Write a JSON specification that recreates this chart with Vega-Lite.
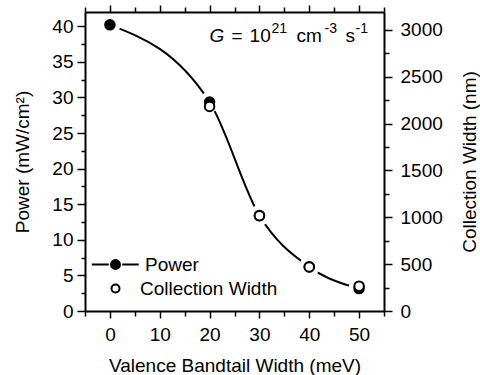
{
  "$schema": "https://vega.github.io/schema/vega-lite/v6.json",
  "width": 299,
  "height": 299,
  "autosize": {"type": "none"},
  "padding": {"left": 85, "top": 12, "right": 96, "bottom": 64},
  "background": "white",
  "config": {
    "view": {"stroke": null},
    "font": "Liberation Sans",
    "text": {"font": "Liberation Sans", "fontSize": 19, "color": "black", "align": "left", "baseline": "alphabetic"},
    "axis": {
      "grid": false,
      "domainColor": "black",
      "domainWidth": 2,
      "tickColor": "black",
      "tickWidth": 1.5,
      "labelColor": "black",
      "titleColor": "black",
      "labelFont": "Liberation Sans",
      "titleFont": "Liberation Sans",
      "labelFontSize": 19,
      "titleFontSize": 19,
      "titleFontWeight": "normal",
      "labelOverlap": false,
      "labelBound": false,
      "labelFlush": false
    }
  },
  "datasets": {
    "power": [
      {"bandtail": 0, "power": 40.2, "series": "Power"},
      {"bandtail": 20, "power": 29.35, "series": "Power"},
      {"bandtail": 30, "power": 13.4, "series": "Power"},
      {"bandtail": 40, "power": 6.2, "series": "Power"},
      {"bandtail": 50, "power": 3.15, "series": "Power"}
    ],
    "width": [
      {"bandtail": 20, "cw": 2183, "series": "Collection Width"},
      {"bandtail": 30, "cw": 1017, "series": "Collection Width"},
      {"bandtail": 40, "cw": 470, "series": "Collection Width"},
      {"bandtail": 50, "cw": 265, "series": "Collection Width"}
    ],
    "note": [{"g": "G", "eq": "=", "ten": "10", "e21": "21", "cm": "cm", "e3": "-3", "s": "s", "e1": "-1"}]
  },
  "layer": [
    {
      "layer": [
        {
          "data": {"name": "power"},
          "mark": {"type": "line", "interpolate": "monotone", "color": "black", "strokeWidth": 2},
          "encoding": {
            "x": {"field": "bandtail", "type": "quantitative", "scale": {"domain": [-5, 55], "nice": false, "zero": false}, "axis": {"orient": "bottom", "title": "Valence Bandtail Width (meV)", "values": [-5, 0, 5, 10, 15, 20, 25, 30, 35, 40, 45, 50, 55], "labelExpr": "datum.value % 10 === 0 ? datum.label : ''", "tickSize": {"condition": {"test": "datum.value % 10 === 0", "value": 7}, "value": 5}, "labelPadding": 7, "titlePadding": 12}},
            "y": {"field": "power", "type": "quantitative", "scale": {"domain": [0, 42], "nice": false}, "axis": {"orient": "left", "title": "Power (mW/cm²)", "values": [0, 2.5, 5, 7.5, 10, 12.5, 15, 17.5, 20, 22.5, 25, 27.5, 30, 32.5, 35, 37.5, 40], "labelExpr": "datum.value % 5 === 0 ? datum.label : ''", "tickSize": {"condition": {"test": "datum.value % 5 === 0", "value": 8}, "value": 4}, "labelPadding": 4, "titlePadding": 19}}
          }
        },
        {
          "data": {"name": "power"},
          "mark": {"type": "circle", "size": 440, "color": "white", "opacity": 1},
          "encoding": {
            "x": {"field": "bandtail", "type": "quantitative", "scale": {"domain": [-5, 55], "nice": false, "zero": false}, "axis": {"orient": "bottom", "title": "Valence Bandtail Width (meV)", "values": [-5, 0, 5, 10, 15, 20, 25, 30, 35, 40, 45, 50, 55], "labelExpr": "datum.value % 10 === 0 ? datum.label : ''", "tickSize": {"condition": {"test": "datum.value % 10 === 0", "value": 7}, "value": 5}, "labelPadding": 7, "titlePadding": 12}},
            "y": {"field": "power", "type": "quantitative", "scale": {"domain": [0, 42], "nice": false}, "axis": {"orient": "left", "title": "Power (mW/cm²)", "values": [0, 2.5, 5, 7.5, 10, 12.5, 15, 17.5, 20, 22.5, 25, 27.5, 30, 32.5, 35, 37.5, 40], "labelExpr": "datum.value % 5 === 0 ? datum.label : ''", "tickSize": {"condition": {"test": "datum.value % 5 === 0", "value": 8}, "value": 4}, "labelPadding": 4, "titlePadding": 19}}
          }
        },
        {
          "data": {"name": "power"},
          "mark": {"type": "point", "shape": "circle", "filled": true, "size": 100, "stroke": "black", "strokeWidth": 1.5, "opacity": 1},
          "encoding": {
            "x": {"field": "bandtail", "type": "quantitative", "scale": {"domain": [-5, 55], "nice": false, "zero": false}, "axis": {"orient": "bottom", "title": "Valence Bandtail Width (meV)", "values": [-5, 0, 5, 10, 15, 20, 25, 30, 35, 40, 45, 50, 55], "labelExpr": "datum.value % 10 === 0 ? datum.label : ''", "tickSize": {"condition": {"test": "datum.value % 10 === 0", "value": 7}, "value": 5}, "labelPadding": 7, "titlePadding": 12}},
            "y": {"field": "power", "type": "quantitative", "scale": {"domain": [0, 42], "nice": false}, "axis": {"orient": "left", "title": "Power (mW/cm²)", "values": [0, 2.5, 5, 7.5, 10, 12.5, 15, 17.5, 20, 22.5, 25, 27.5, 30, 32.5, 35, 37.5, 40], "labelExpr": "datum.value % 5 === 0 ? datum.label : ''", "tickSize": {"condition": {"test": "datum.value % 5 === 0", "value": 8}, "value": 4}, "labelPadding": 4, "titlePadding": 19}},
            "fill": {
              "field": "series",
              "type": "nominal",
              "scale": {"domain": ["Power"], "range": ["black"]},
              "legend": {
                "title": null,
                "orient": "none",
                "legendX": 21,
                "legendY": 243,
                "padding": 0,
                "symbolSize": 80,
                "symbolType": "M-5.3,0L-1.5,0M1.5,0L5.2,0M-1,0A1,1 0 1,1 1,0A1,1 0 1,1 -1,0Z",
                "symbolStrokeColor": "black",
                "symbolStrokeWidth": 2,
                "labelFont": "Liberation Sans",
                "labelFontSize": 19,
                "labelColor": "black",
                "labelOffset": 20
              }
            }
          }
        },
        {
          "data": {"name": "note"},
          "mark": {"type": "text", "fontStyle": "italic"},
          "encoding": {
            "x": {"datum": 20, "type": "quantitative", "scale": {"domain": [-5, 55], "nice": false, "zero": false}, "axis": {"orient": "bottom", "title": "Valence Bandtail Width (meV)", "values": [-5, 0, 5, 10, 15, 20, 25, 30, 35, 40, 45, 50, 55], "labelExpr": "datum.value % 10 === 0 ? datum.label : ''", "tickSize": {"condition": {"test": "datum.value % 10 === 0", "value": 7}, "value": 5}, "labelPadding": 7, "titlePadding": 12}},
            "y": {"datum": 37.8, "type": "quantitative", "scale": {"domain": [0, 42], "nice": false}, "axis": {"orient": "left", "title": "Power (mW/cm²)", "values": [0, 2.5, 5, 7.5, 10, 12.5, 15, 17.5, 20, 22.5, 25, 27.5, 30, 32.5, 35, 37.5, 40], "labelExpr": "datum.value % 5 === 0 ? datum.label : ''", "tickSize": {"condition": {"test": "datum.value % 5 === 0", "value": 8}, "value": 4}, "labelPadding": 4, "titlePadding": 19}},
            "text": {"field": "g"}
          }
        },
        {
          "data": {"name": "note"},
          "mark": {"type": "text", "dx": 22},
          "encoding": {
            "x": {"datum": 20, "type": "quantitative", "scale": {"domain": [-5, 55], "nice": false, "zero": false}, "axis": {"orient": "bottom", "title": "Valence Bandtail Width (meV)", "values": [-5, 0, 5, 10, 15, 20, 25, 30, 35, 40, 45, 50, 55], "labelExpr": "datum.value % 10 === 0 ? datum.label : ''", "tickSize": {"condition": {"test": "datum.value % 10 === 0", "value": 7}, "value": 5}, "labelPadding": 7, "titlePadding": 12}},
            "y": {"datum": 37.8, "type": "quantitative", "scale": {"domain": [0, 42], "nice": false}, "axis": {"orient": "left", "title": "Power (mW/cm²)", "values": [0, 2.5, 5, 7.5, 10, 12.5, 15, 17.5, 20, 22.5, 25, 27.5, 30, 32.5, 35, 37.5, 40], "labelExpr": "datum.value % 5 === 0 ? datum.label : ''", "tickSize": {"condition": {"test": "datum.value % 5 === 0", "value": 8}, "value": 4}, "labelPadding": 4, "titlePadding": 19}},
            "text": {"field": "eq"}
          }
        },
        {
          "data": {"name": "note"},
          "mark": {"type": "text", "dx": 40},
          "encoding": {
            "x": {"datum": 20, "type": "quantitative", "scale": {"domain": [-5, 55], "nice": false, "zero": false}, "axis": {"orient": "bottom", "title": "Valence Bandtail Width (meV)", "values": [-5, 0, 5, 10, 15, 20, 25, 30, 35, 40, 45, 50, 55], "labelExpr": "datum.value % 10 === 0 ? datum.label : ''", "tickSize": {"condition": {"test": "datum.value % 10 === 0", "value": 7}, "value": 5}, "labelPadding": 7, "titlePadding": 12}},
            "y": {"datum": 37.8, "type": "quantitative", "scale": {"domain": [0, 42], "nice": false}, "axis": {"orient": "left", "title": "Power (mW/cm²)", "values": [0, 2.5, 5, 7.5, 10, 12.5, 15, 17.5, 20, 22.5, 25, 27.5, 30, 32.5, 35, 37.5, 40], "labelExpr": "datum.value % 5 === 0 ? datum.label : ''", "tickSize": {"condition": {"test": "datum.value % 5 === 0", "value": 8}, "value": 4}, "labelPadding": 4, "titlePadding": 19}},
            "text": {"field": "ten"}
          }
        },
        {
          "data": {"name": "note"},
          "mark": {"type": "text", "dx": 62, "dy": -9, "fontSize": 14},
          "encoding": {
            "x": {"datum": 20, "type": "quantitative", "scale": {"domain": [-5, 55], "nice": false, "zero": false}, "axis": {"orient": "bottom", "title": "Valence Bandtail Width (meV)", "values": [-5, 0, 5, 10, 15, 20, 25, 30, 35, 40, 45, 50, 55], "labelExpr": "datum.value % 10 === 0 ? datum.label : ''", "tickSize": {"condition": {"test": "datum.value % 10 === 0", "value": 7}, "value": 5}, "labelPadding": 7, "titlePadding": 12}},
            "y": {"datum": 37.8, "type": "quantitative", "scale": {"domain": [0, 42], "nice": false}, "axis": {"orient": "left", "title": "Power (mW/cm²)", "values": [0, 2.5, 5, 7.5, 10, 12.5, 15, 17.5, 20, 22.5, 25, 27.5, 30, 32.5, 35, 37.5, 40], "labelExpr": "datum.value % 5 === 0 ? datum.label : ''", "tickSize": {"condition": {"test": "datum.value % 5 === 0", "value": 8}, "value": 4}, "labelPadding": 4, "titlePadding": 19}},
            "text": {"field": "e21"}
          }
        },
        {
          "data": {"name": "note"},
          "mark": {"type": "text", "dx": 87},
          "encoding": {
            "x": {"datum": 20, "type": "quantitative", "scale": {"domain": [-5, 55], "nice": false, "zero": false}, "axis": {"orient": "bottom", "title": "Valence Bandtail Width (meV)", "values": [-5, 0, 5, 10, 15, 20, 25, 30, 35, 40, 45, 50, 55], "labelExpr": "datum.value % 10 === 0 ? datum.label : ''", "tickSize": {"condition": {"test": "datum.value % 10 === 0", "value": 7}, "value": 5}, "labelPadding": 7, "titlePadding": 12}},
            "y": {"datum": 37.8, "type": "quantitative", "scale": {"domain": [0, 42], "nice": false}, "axis": {"orient": "left", "title": "Power (mW/cm²)", "values": [0, 2.5, 5, 7.5, 10, 12.5, 15, 17.5, 20, 22.5, 25, 27.5, 30, 32.5, 35, 37.5, 40], "labelExpr": "datum.value % 5 === 0 ? datum.label : ''", "tickSize": {"condition": {"test": "datum.value % 5 === 0", "value": 8}, "value": 4}, "labelPadding": 4, "titlePadding": 19}},
            "text": {"field": "cm"}
          }
        },
        {
          "data": {"name": "note"},
          "mark": {"type": "text", "dx": 115, "dy": -9, "fontSize": 14},
          "encoding": {
            "x": {"datum": 20, "type": "quantitative", "scale": {"domain": [-5, 55], "nice": false, "zero": false}, "axis": {"orient": "bottom", "title": "Valence Bandtail Width (meV)", "values": [-5, 0, 5, 10, 15, 20, 25, 30, 35, 40, 45, 50, 55], "labelExpr": "datum.value % 10 === 0 ? datum.label : ''", "tickSize": {"condition": {"test": "datum.value % 10 === 0", "value": 7}, "value": 5}, "labelPadding": 7, "titlePadding": 12}},
            "y": {"datum": 37.8, "type": "quantitative", "scale": {"domain": [0, 42], "nice": false}, "axis": {"orient": "left", "title": "Power (mW/cm²)", "values": [0, 2.5, 5, 7.5, 10, 12.5, 15, 17.5, 20, 22.5, 25, 27.5, 30, 32.5, 35, 37.5, 40], "labelExpr": "datum.value % 5 === 0 ? datum.label : ''", "tickSize": {"condition": {"test": "datum.value % 5 === 0", "value": 8}, "value": 4}, "labelPadding": 4, "titlePadding": 19}},
            "text": {"field": "e3"}
          }
        },
        {
          "data": {"name": "note"},
          "mark": {"type": "text", "dx": 136},
          "encoding": {
            "x": {"datum": 20, "type": "quantitative", "scale": {"domain": [-5, 55], "nice": false, "zero": false}, "axis": {"orient": "bottom", "title": "Valence Bandtail Width (meV)", "values": [-5, 0, 5, 10, 15, 20, 25, 30, 35, 40, 45, 50, 55], "labelExpr": "datum.value % 10 === 0 ? datum.label : ''", "tickSize": {"condition": {"test": "datum.value % 10 === 0", "value": 7}, "value": 5}, "labelPadding": 7, "titlePadding": 12}},
            "y": {"datum": 37.8, "type": "quantitative", "scale": {"domain": [0, 42], "nice": false}, "axis": {"orient": "left", "title": "Power (mW/cm²)", "values": [0, 2.5, 5, 7.5, 10, 12.5, 15, 17.5, 20, 22.5, 25, 27.5, 30, 32.5, 35, 37.5, 40], "labelExpr": "datum.value % 5 === 0 ? datum.label : ''", "tickSize": {"condition": {"test": "datum.value % 5 === 0", "value": 8}, "value": 4}, "labelPadding": 4, "titlePadding": 19}},
            "text": {"field": "s"}
          }
        },
        {
          "data": {"name": "note"},
          "mark": {"type": "text", "dx": 146, "dy": -9, "fontSize": 14},
          "encoding": {
            "x": {"datum": 20, "type": "quantitative", "scale": {"domain": [-5, 55], "nice": false, "zero": false}, "axis": {"orient": "bottom", "title": "Valence Bandtail Width (meV)", "values": [-5, 0, 5, 10, 15, 20, 25, 30, 35, 40, 45, 50, 55], "labelExpr": "datum.value % 10 === 0 ? datum.label : ''", "tickSize": {"condition": {"test": "datum.value % 10 === 0", "value": 7}, "value": 5}, "labelPadding": 7, "titlePadding": 12}},
            "y": {"datum": 37.8, "type": "quantitative", "scale": {"domain": [0, 42], "nice": false}, "axis": {"orient": "left", "title": "Power (mW/cm²)", "values": [0, 2.5, 5, 7.5, 10, 12.5, 15, 17.5, 20, 22.5, 25, 27.5, 30, 32.5, 35, 37.5, 40], "labelExpr": "datum.value % 5 === 0 ? datum.label : ''", "tickSize": {"condition": {"test": "datum.value % 5 === 0", "value": 8}, "value": 4}, "labelPadding": 4, "titlePadding": 19}},
            "text": {"field": "e1"}
          }
        }
      ]
    },
    {
      "data": {"name": "width"},
      "mark": {"type": "point", "shape": "circle", "filled": true, "fill": "white", "size": 90, "strokeWidth": 2, "opacity": 1},
      "encoding": {
        "x": {
          "field": "bandtail",
          "type": "quantitative",
          "scale": {"domain": [-5, 55], "nice": false, "zero": false},
          "axis": {
            "orient": "top",
            "title": null,
            "labels": false,
            "values": [-5, 0, 5, 10, 15, 20, 25, 30, 35, 40, 45, 50, 55],
            "tickSize": {"condition": {"test": "datum.value % 10 === 0", "value": 7}, "value": 5}
          }
        },
        "y": {
          "field": "cw",
          "type": "quantitative",
          "scale": {"domain": [0, 3190], "nice": false},
          "axis": {
            "orient": "right",
            "title": "Collection Width (nm)",
            "titleAngle": 270,
            "titleBaseline": "top",
            "format": "d",
            "values": [0, 250, 500, 750, 1000, 1250, 1500, 1750, 2000, 2250, 2500, 2750, 3000],
            "labelExpr": "datum.value % 500 === 0 ? datum.label : ''",
            "tickSize": {"condition": {"test": "datum.value % 500 === 0", "value": 8}, "value": 5},
            "labelPadding": 8,
            "titlePadding": 18
          }
        },
        "stroke": {
          "field": "series",
          "type": "nominal",
          "scale": {"domain": ["Collection Width"], "range": ["black"]},
          "legend": {
            "title": null,
            "orient": "none",
            "legendX": 21,
            "legendY": 267,
            "padding": 0,
            "symbolSize": 64,
            "symbolType": "circle",
            "symbolFillColor": "white",
            "symbolStrokeWidth": 2,
            "labelFont": "Liberation Sans",
            "labelFontSize": 19,
            "labelColor": "black",
            "labelOffset": 15
          }
        }
      }
    }
  ],
  "resolve": {
    "scale": {"y": "independent"},
    "axis": {"x": "independent", "y": "independent"}
  }
}
